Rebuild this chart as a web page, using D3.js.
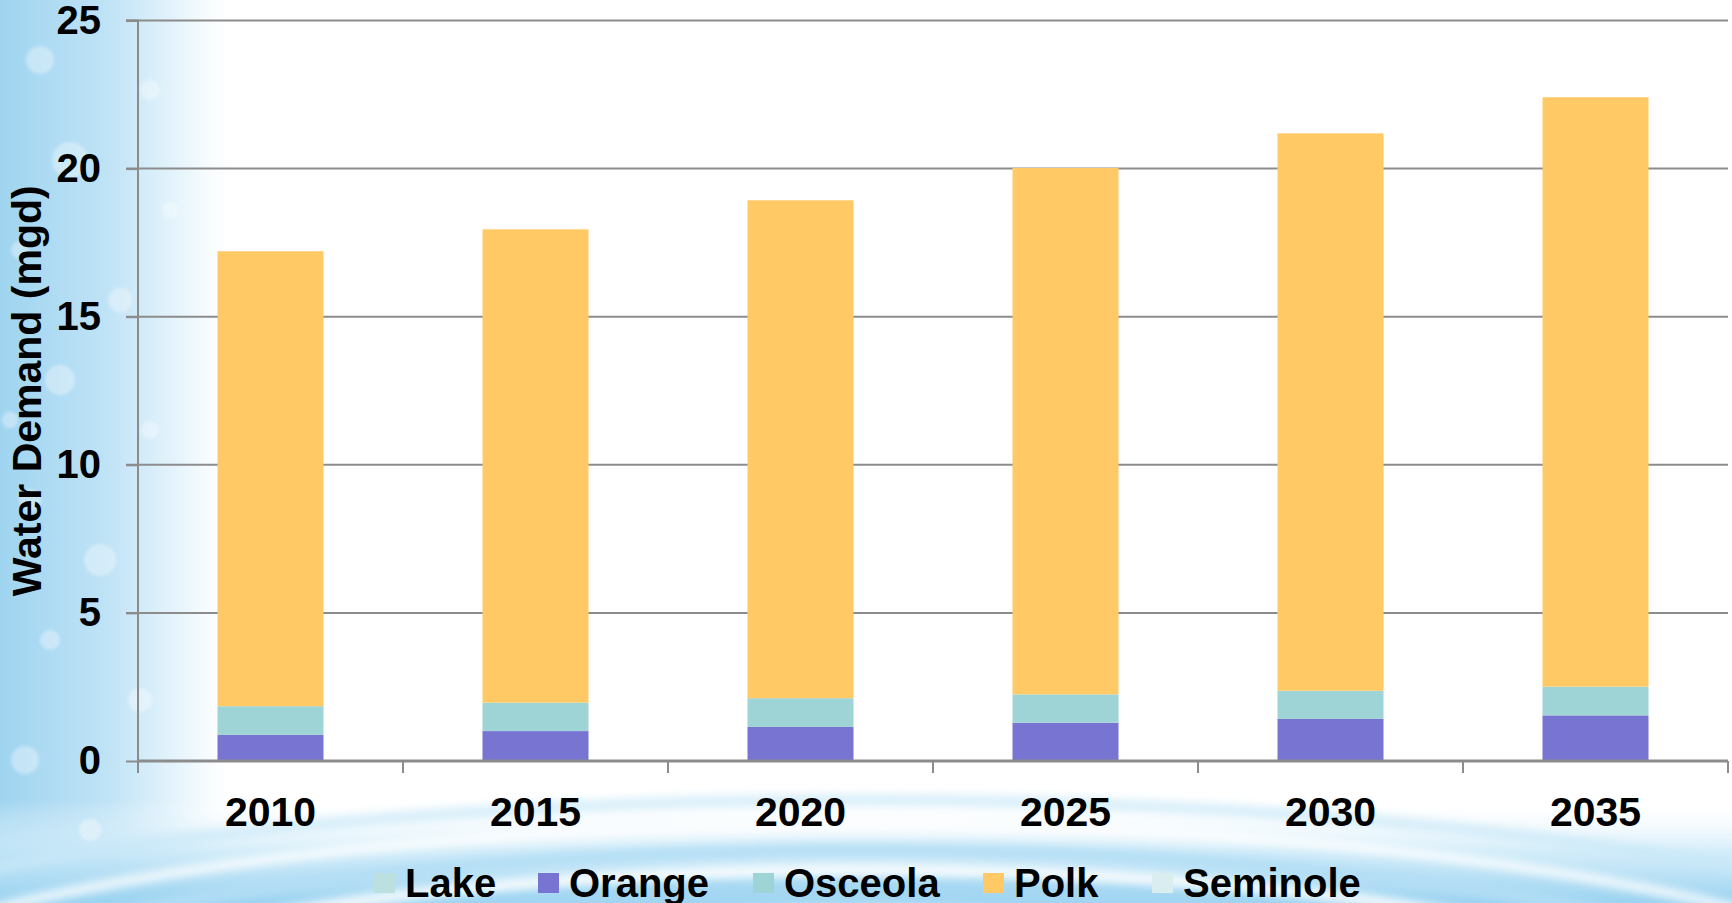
<!DOCTYPE html>
<html>
<head>
<meta charset="utf-8">
<script src="https://cdn.jsdelivr.net/npm/d3@7"></script>
<style>
  html, body { margin: 0; padding: 0; background: #fff; overflow: hidden; }
  svg { display: block; font-family: "Liberation Sans", Arial, sans-serif; font-weight: bold; }
</style>
</head>
<body>
<svg id="chart" width="1732" height="903"></svg>
<script>
// ---- data ----
const years = ["2010", "2015", "2020", "2025", "2030", "2035"];
const seriesNames = ["Lake", "Orange", "Osceola", "Polk", "Seminole"];
const lake     = [0, 0, 0, 0, 0, 0];
const orange   = [0.88, 1.01, 1.15, 1.29, 1.42, 1.54];
const osceola  = [0.97, 0.96, 0.97, 0.96, 0.95, 0.97];
const polk     = [15.36, 15.98, 16.81, 17.77, 18.82, 19.90];
const seminole = [0, 0, 0, 0, 0, 0];
const yTicks   = [0, 5, 10, 15, 20, 25];
const colors   = ["#BCDFE0", "#7775D1", "#9FD4D6", "#FFCA66", "#DAEEF0"];
const yTitle   = "Water Demand (mgd)";

const seriesValues = [lake, orange, osceola, polk, seminole];
const rows = years.map((y, i) => {
  const r = { year: y };
  seriesNames.forEach((k, j) => r[k] = seriesValues[j][i]);
  return r;
});

const svg = d3.select("#chart");
const W = 1732, H = 903;

// ---- background (decorative water image approximation) ----
const defs = svg.append("defs");
const lg = defs.append("linearGradient").attr("id", "leftBlue").attr("x1", "0").attr("x2", "1").attr("y1", "0").attr("y2", "0");
lg.append("stop").attr("offset", "0").attr("stop-color", "#9fd4f0");
lg.append("stop").attr("offset", "0.45").attr("stop-color", "#c0e3f6");
lg.append("stop").attr("offset", "0.8").attr("stop-color", "#eef8fd");
lg.append("stop").attr("offset", "1").attr("stop-color", "#ffffff").attr("stop-opacity", 0);
const bg = defs.append("linearGradient").attr("id", "bottomBlue").attr("x1", "0").attr("x2", "0").attr("y1", "0").attr("y2", "1");
bg.append("stop").attr("offset", "0").attr("stop-color", "#ffffff").attr("stop-opacity", 0);
bg.append("stop").attr("offset", "0.5").attr("stop-color", "#c8e8f8").attr("stop-opacity", 0.8);
bg.append("stop").attr("offset", "1").attr("stop-color", "#99d2f0");
defs.append("filter").attr("id", "blur").append("feGaussianBlur").attr("stdDeviation", 4);
defs.append("filter").attr("id", "blur2").append("feGaussianBlur").attr("stdDeviation", 1.5);

const bgG = svg.append("g");
bgG.append("rect").attr("width", W).attr("height", H).attr("fill", "#ffffff");
bgG.append("rect").attr("x", 0).attr("y", 0).attr("width", 240).attr("height", H).attr("fill", "url(#leftBlue)");
bgG.append("rect").attr("x", 0).attr("y", 800).attr("width", W).attr("height", 103).attr("fill", "url(#bottomBlue)");
// ripple arcs
const arcs = [
  {cx: 866, cy: 1040, rx: 1100, ry: 215, c: "#ffffff", w: 10, o: 0.8},
  {cx: 866, cy: 1040, rx: 1000, ry: 190, c: "#b3def5", w: 14, o: 0.9},
  {cx: 866, cy: 1040, rx: 880, ry: 170, c: "#ffffff", w: 12, o: 0.85},
  {cx: 866, cy: 1040, rx: 760, ry: 150, c: "#a4d7f3", w: 16, o: 0.8},
  {cx: 866, cy: 1040, rx: 640, ry: 130, c: "#e6f5fc", w: 10, o: 0.9},
  {cx: 866, cy: 1040, rx: 1250, ry: 240, c: "#c9e8f8", w: 12, o: 0.7}
];
bgG.selectAll("ellipse.ripple").data(arcs).join("ellipse")
  .attr("class", "ripple")
  .attr("cx", d => d.cx).attr("cy", d => d.cy).attr("rx", d => d.rx).attr("ry", d => d.ry)
  .attr("fill", "none").attr("stroke", d => d.c).attr("stroke-width", d => d.w).attr("opacity", d => d.o)
  .attr("filter", "url(#blur)");
// droplets on left
const drops = [[40,60,14],[150,90,10],[70,160,18],[20,250,9],[120,300,12],[60,380,15],[150,430,9],[30,500,11],[100,560,16],[50,640,10],[140,700,12],[25,760,14],[90,830,11],[170,210,8],[10,420,8]];
bgG.selectAll("circle.drop").data(drops).join("circle")
  .attr("class", "drop")
  .attr("cx", d => d[0]).attr("cy", d => d[1]).attr("r", d => d[2])
  .attr("fill", "#ffffff").attr("opacity", 0.35).attr("filter", "url(#blur2)");

// ---- scales ----
const x0 = 138, x1 = 1728, yTop = 20.5, yBot = 761;
const x = d3.scaleBand().domain(years).range([x0, x1]).paddingInner(0.6).paddingOuter(0.3);
const y = d3.scaleLinear().domain([0, 25]).range([yBot, yTop]);
const color = d3.scaleOrdinal().domain(seriesNames).range(colors);

// ---- gridlines ----
svg.append("g").selectAll("line").data(yTicks.filter(t => t > 0)).join("line")
  .attr("x1", x0 - 12).attr("x2", x1).attr("y1", d => y(d)).attr("y2", d => y(d))
  .attr("stroke", "#8c8c8c").attr("stroke-width", 2);

// ---- bars ----
const stack = d3.stack().keys(seriesNames)(rows);
svg.append("g").selectAll("g").data(stack).join("g")
  .attr("fill", d => color(d.key))
  .selectAll("rect").data(d => d).join("rect")
  .attr("x", d => x(d.data.year))
  .attr("width", x.bandwidth())
  .attr("y", d => y(d[1]))
  .attr("height", d => y(d[0]) - y(d[1]));

// ---- y axis ----
const yAxis = d3.axisLeft(y).tickValues(yTicks).tickSize(12).tickPadding(25).tickFormat(d3.format("d"));
const yg = svg.append("g").attr("transform", `translate(${x0},0)`).call(yAxis);
yg.select(".domain").attr("stroke", "#8c8c8c").attr("stroke-width", 2).attr("d", `M-12,${yTop}H0V${yBot}`);
yg.selectAll(".tick line").attr("stroke", "#8c8c8c").attr("stroke-width", 2);
yg.selectAll(".tick text").attr("font-size", 40).attr("font-weight", "bold").attr("fill", "#000")
  .attr("font-family", "Liberation Sans, Arial, sans-serif");

// ---- x axis ----
const xAxis = d3.axisBottom(x).tickSize(0).tickPadding(0);
const xg = svg.append("g").attr("transform", `translate(0,${yBot})`).call(xAxis);
xg.select(".domain").attr("stroke", "#8c8c8c").attr("stroke-width", 3).attr("d", `M${x0},0H${x1}`);
xg.selectAll(".tick text").attr("font-size", 41).attr("font-weight", "bold").attr("fill", "#000")
  .attr("font-family", "Liberation Sans, Arial, sans-serif").attr("dy", null).attr("y", 65);
// category boundary ticks
const bounds = d3.range(years.length + 1).map(i => x0 + i * (x1 - x0) / years.length);
xg.append("g").selectAll("line").data(bounds).join("line")
  .attr("x1", d => d).attr("x2", d => d).attr("y1", 0).attr("y2", 12)
  .attr("stroke", "#8c8c8c").attr("stroke-width", 2);

// ---- y title ----
svg.append("text")
  .attr("transform", `translate(41,${(yTop + yBot) / 2}) rotate(-90)`)
  .attr("text-anchor", "middle")
  .attr("font-size", 41).attr("font-weight", "bold").attr("fill", "#000")
  .text(yTitle);

// ---- legend ----
const legendX = [374, 538, 753, 983, 1152];
const legend = svg.append("g");
seriesNames.forEach((name, i) => {
  legend.append("rect").attr("x", legendX[i]).attr("y", 873).attr("width", 21).attr("height", 20).attr("fill", colors[i]);
  legend.append("text").attr("x", legendX[i] + 31).attr("y", 897)
    .attr("font-size", 40).attr("font-weight", "bold").attr("fill", "#000").text(name);
});
</script>
</body>
</html>
